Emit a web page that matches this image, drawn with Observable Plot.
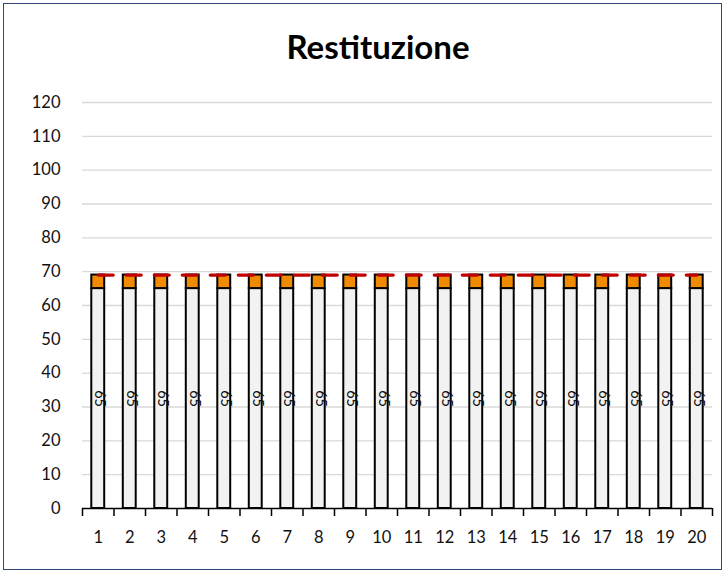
<!DOCTYPE html>
<html><head><meta charset="utf-8">
<script src="https://cdn.jsdelivr.net/npm/d3@7"></script>
<script src="https://cdn.jsdelivr.net/npm/@observablehq/plot@0.6"></script>
<style>
body{margin:0;background:#fff;}
#wrap{position:relative;width:725px;height:571px;overflow:hidden;background:#fff;}
#chart{position:absolute;left:0;top:0;}
#frame{position:absolute;left:3px;top:3px;width:719px;height:567px;border:1.6px solid #2e4a7a;box-sizing:border-box;pointer-events:none;}
#title{position:absolute;left:0;width:756px;top:26px;text-align:center;font:bold 33px Lato, "Open Sans", sans-serif;color:#000;line-height:40px;}
</style></head>
<body>
<div id="wrap">
  <div id="chart"></div>
  <div id="title">Restituzione</div>
  <div id="frame"></div>
</div>
<script>
const categories = [1,2,3,4,5,6,7,8,9,10,11,12,13,14,15,16,17,18,19,20];
const baseValues = [65,65,65,65,65,65,65,65,65,65,65,65,65,65,65,65,65,65,65,65];
const topValues = [4,4,4,4,4,4,4,4,4,4,4,4,4,4,4,4,4,4,4,4];
const targetValues = [69,69,69,69,69,69,69,69,69,69,69,69,69,69,69,69,69,69,69,69];
const yTicks = [0,10,20,30,40,50,60,70,80,90,100,110,120];

const rows = categories.map((c, i) => ({cat: c, base: baseValues[i], top: topValues[i], target: targetValues[i]}));
const half = 0.205;
const boundaries = categories.map(c => c - 0.5).concat([categories[categories.length - 1] + 0.5]);

const chart = Plot.plot({
  width: 725,
  height: 571,
  marginLeft: 82,
  marginRight: 13,
  marginTop: 102,
  marginBottom: 63,
  style: {fontFamily: "Lato, 'Open Sans', sans-serif", fontSize: "16.5px", color: "#111", background: "transparent"},
  x: {type: "linear", domain: [0.5, 20.5], axis: null, label: null},
  y: {domain: [0, 120], axis: null, label: null},
  marks: [
    Plot.ruleY(yTicks.filter(d => d > 0), {stroke: "#d9d9d9", strokeWidth: 1.3}),
    Plot.rectY(rows, {x1: d => d.cat - half, x2: d => d.cat + half, y1: 0, y2: "base", fill: "#f2f2f2", stroke: "#000", strokeWidth: 2}),
    Plot.rectY(rows, {x1: d => d.cat - half, x2: d => d.cat + half, y1: "base", y2: d => d.base + d.top, fill: "#f08a00", stroke: "#000", strokeWidth: 2}),
    Plot.text(rows, {x: d => d.cat + 0.05, y: d => d.base / 2, text: d => String(d.base), rotate: 90, fontSize: 14.5, fill: "#111"}),
    Plot.lineY(rows, {x: "cat", y: "target", stroke: "#c00000", strokeWidth: 3.2, strokeDasharray: "15,13"}),
    Plot.ruleY([0], {stroke: "#000", strokeWidth: 1.5}),
    Plot.axisY(yTicks, {tickSize: 0, tickPadding: 22, fontSize: 16.5, label: null}),
    Plot.axisX(boundaries, {tickSize: 8, tickFormat: () => "", stroke: "#000", strokeWidth: 1.5, label: null}),
    Plot.axisX(categories, {tickSize: 0, tickPadding: 23, fontSize: 16.5, tickFormat: d => String(d), label: null})
  ]
});
document.getElementById("chart").appendChild(chart);
</script>
</body></html>
